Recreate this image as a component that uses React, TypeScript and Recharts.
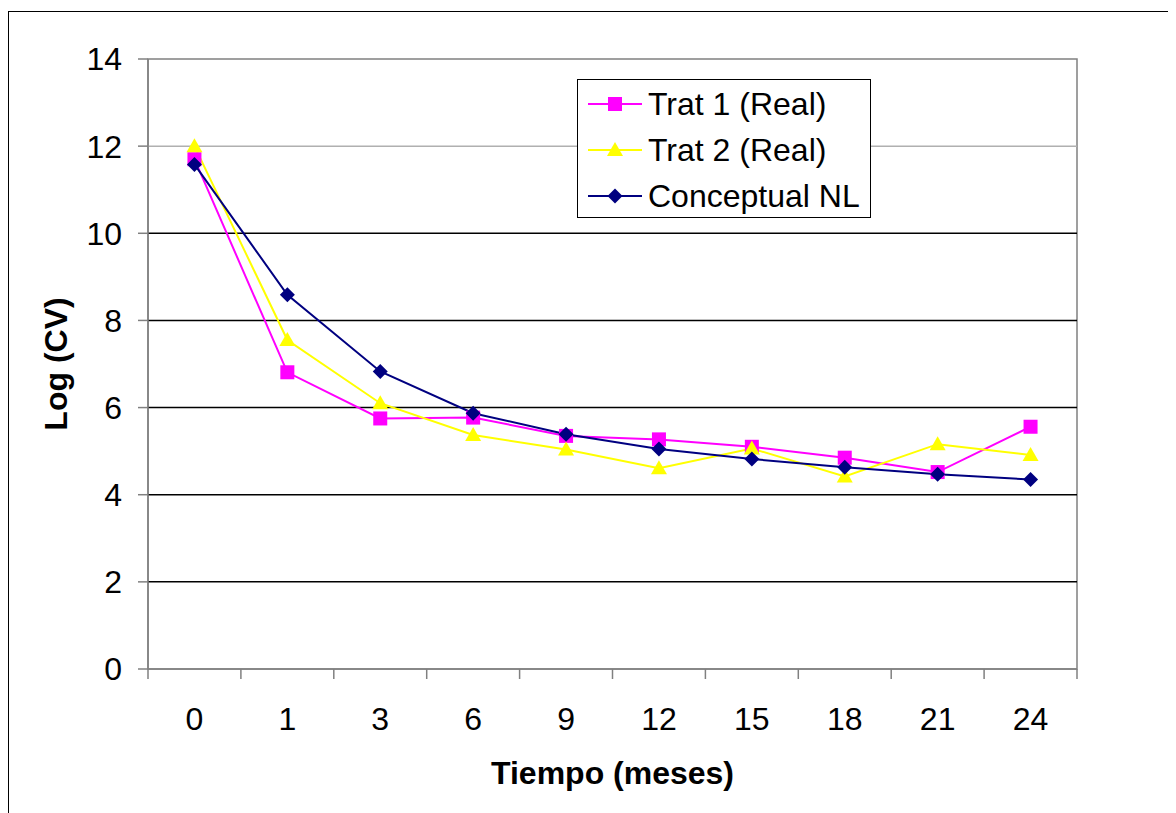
import React from 'react';
import { LineChart, Line, XAxis, YAxis, ReferenceLine, ReferenceArea, Legend, Label } from 'recharts';

const categories = ['0', '1', '3', '6', '9', '12', '15', '18', '21', '24'];
const trat1 = [11.7, 6.81, 5.75, 5.77, 5.35, 5.27, 5.1, 4.85, 4.52, 5.56];
const trat2 = [12.0, 7.55, 6.1, 5.37, 5.04, 4.61, 5.06, 4.42, 5.16, 4.91];
const conceptual = [11.58, 8.59, 6.83, 5.87, 5.39, 5.05, 4.82, 4.63, 4.47, 4.35];
const yTicks = [0, 2, 4, 6, 8, 10, 12, 14];
const gridValues = [2, 4, 6, 8, 10, 12];

const data = categories.map((t, i) => ({
  t,
  trat1: trat1[i],
  trat2: trat2[i],
  conceptual: conceptual[i],
}));

const FONT = '"Liberation Sans", Arial, sans-serif';
const W = 1168;
const H = 805;
const TICK_SIZE = 10;
const TICK_MARGIN = 28;

const series = [
  { key: 'trat1', name: 'Trat 1 (Real)', color: '#FF00FF', shape: 'square' },
  { key: 'trat2', name: 'Trat 2 (Real)', color: '#FFFF00', shape: 'triangle' },
  { key: 'conceptual', name: 'Conceptual NL', color: '#000080', shape: 'diamond' },
];

function Marker({ shape, color, cx, cy }: { shape: string; color: string; cx: number; cy: number }) {
  if (cx == null || cy == null) return null;
  if (shape === 'square') {
    return <rect x={cx - 7} y={cy - 7} width={14} height={14} fill={color} />;
  }
  if (shape === 'triangle') {
    return <polygon points={`${cx},${cy - 8} ${cx + 8},${cy + 6} ${cx - 8},${cy + 6}`} fill={color} />;
  }
  return <polygon points={`${cx},${cy - 7.5} ${cx + 7.5},${cy} ${cx},${cy + 7.5} ${cx - 7.5},${cy}`} fill={color} />;
}

const makeDot = (shape: string, color: string) => (props: any) => (
  <Marker key={`${shape}-${props.index}`} shape={shape} color={color} cx={props.cx} cy={props.cy} />
);

const CatTick = (props: any) => {
  const { x, y, payload, index, visibleTicksCount } = props;
  const count = visibleTicksCount || categories.length;
  const band = props.width ? props.width / count : 929 / count;
  const axisY = y - TICK_SIZE - TICK_MARGIN;
  const left = x - band / 2;
  const right = x + band / 2;
  return (
    <g>
      <line x1={left} y1={axisY} x2={left} y2={axisY + TICK_SIZE} stroke="#808080" strokeWidth={1.5} />
      {index === count - 1 && (
        <line x1={right} y1={axisY} x2={right} y2={axisY + TICK_SIZE} stroke="#808080" strokeWidth={1.5} />
      )}
      <text x={x} y={y} dy="0.71em" textAnchor="middle" fontSize={32} fontFamily={FONT} fill="#000">
        {payload.value}
      </text>
    </g>
  );
};

const renderLegend = () => (
  <div
    style={{
      width: 292,
      height: 136,
      border: '1px solid #000',
      background: '#fff',
      boxSizing: 'content-box',
      paddingTop: 1,
      fontFamily: FONT,
    }}
  >
    {series.map((s) => (
      <div key={s.key} style={{ display: 'flex', alignItems: 'center', height: 46 }}>
        <svg width={70} height={46} style={{ flex: 'none' }}>
          <line x1={10} y1={23} x2={64} y2={23} stroke={s.color} strokeWidth={2} />
          <Marker shape={s.shape} color={s.color} cx={37} cy={23} />
        </svg>
        <span style={{ fontSize: 32, color: '#000', whiteSpace: 'nowrap', lineHeight: '46px' }}>{s.name}</span>
      </div>
    ))}
  </div>
);

export default function App() {
  return (
    <div style={{ position: 'relative', width: W, height: H, overflow: 'hidden' }}>
      <div
        style={{
          position: 'absolute',
          left: 0,
          top: 3,
          right: -5,
          bottom: -5,
          border: '1px solid #000',
          pointerEvents: 'none',
        }}
      />
      <LineChart width={W} height={H} data={data} margin={{ top: 51, right: 99, left: 0, bottom: 0 }}>
        <XAxis
          dataKey="t"
          type="category"
          scale="band"
          height={144}
          axisLine={{ stroke: '#808080', strokeWidth: 1.5 }}
          tickLine={false}
          tickSize={TICK_SIZE}
          tickMargin={TICK_MARGIN}
          interval={0}
          tick={<CatTick />}
        >
          <Label
            content={(props: any) => {
              const vb = props.viewBox || {};
              return (
                <text
                  x={vb.x + vb.width / 2}
                  y={vb.y + 104}
                  textAnchor="middle"
                  dominantBaseline="central"
                  fontSize={32}
                  fontWeight="bold"
                  fontFamily={FONT}
                  fill="#000"
                >
                  Tiempo (meses)
                </text>
              );
            }}
          />
        </XAxis>
        <YAxis
          width={140}
          domain={[0, 14]}
          ticks={yTicks}
          interval={0}
          tickSize={10}
          tickMargin={16}
          axisLine={{ stroke: '#808080', strokeWidth: 1.5 }}
          tickLine={{ stroke: '#808080', strokeWidth: 1.5 }}
          tick={{ fontSize: 32, fill: '#000', fontFamily: FONT }}
        >
          <Label
            content={(props: any) => {
              const vb = props.viewBox || {};
              const cx = vb.x + 48;
              const cy = vb.y + vb.height / 2;
              return (
                <text
                  x={cx}
                  y={cy}
                  transform={`rotate(-90, ${cx}, ${cy})`}
                  textAnchor="middle"
                  dominantBaseline="central"
                  fontSize={32}
                  fontWeight="bold"
                  fontFamily={FONT}
                  fill="#000"
                >
                  Log (CV)
                </text>
              );
            }}
          />
        </YAxis>
        {gridValues.map((v) => (
          <ReferenceLine key={v} y={v} stroke={v === 12 ? '#b0b0b0' : '#000'} strokeWidth={1.5} />
        ))}
        <ReferenceArea y1={0} y2={14} fill="none" stroke="#808080" strokeWidth={1.5} />
        {series.map((s) => (
          <Line
            key={s.key}
            type="linear"
            dataKey={s.key}
            name={s.name}
            stroke={s.color}
            strokeWidth={2}
            dot={makeDot(s.shape, s.color)}
            activeDot={false}
            isAnimationActive={false}
          />
        ))}
        <Legend
          layout="vertical"
          align="center"
          verticalAlign="middle"
          content={renderLegend}
          wrapperStyle={{ position: 'absolute', left: 569, top: 71, width: 294, height: 138 }}
        />
      </LineChart>
    </div>
  );
}
